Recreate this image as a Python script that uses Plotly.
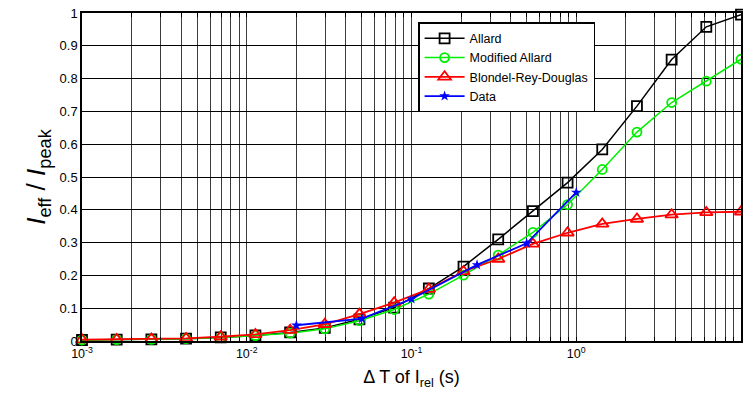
import plotly.graph_objects as go

x_model = [0.001, 0.001624, 0.002637, 0.004281, 0.006952, 0.01129, 0.01833, 0.02976,
           0.04833, 0.07848, 0.1274, 0.2069, 0.336, 0.5456, 0.8859, 1.438, 2.336,
           3.793, 6.158, 10.0]
allard = [0.003, 0.004, 0.005, 0.007, 0.011, 0.017, 0.026, 0.040, 0.066, 0.102,
          0.160, 0.227, 0.310, 0.396, 0.483, 0.584, 0.716, 0.858, 0.958, 0.995]
mod_allard = [0.003, 0.004, 0.005, 0.007, 0.010, 0.016, 0.024, 0.037, 0.062, 0.096,
              0.143, 0.201, 0.262, 0.331, 0.416, 0.523, 0.637, 0.727, 0.792, 0.859]
blondel = [0.004, 0.005, 0.006, 0.008, 0.013, 0.020, 0.033, 0.051, 0.082, 0.117,
           0.158, 0.212, 0.250, 0.296, 0.330, 0.357, 0.372, 0.385, 0.392, 0.394]
x_data = [0.02, 0.05, 0.1, 0.25, 0.5, 1.0]
y_data = [0.048, 0.068, 0.128, 0.232, 0.298, 0.453]

decades = [0.001, 0.01, 0.1, 1, 10]
decade_labels = ["10<sup>-3</sup>", "10<sup>-2</sup>", "10<sup>-1</sup>", "10<sup>0</sup>", "10<sup>1</sup>"]
y_ticks = [0, 0.1, 0.2, 0.3, 0.4, 0.5, 0.6, 0.7, 0.8, 0.9, 1]
y_labels = ["0", "0.1", "0.2", "0.3", "0.4", "0.5", "0.6", "0.7", "0.8", "0.9", "1"]

xt, xl = [], []
for d, lab in zip(decades, decade_labels):
    for m in range(1, 10):
        v = d * m
        if v > 10.0001:
            break
        xt.append(v)
        xl.append(lab if m == 1 else "")

fig = go.Figure()
fig.add_trace(go.Scatter(x=x_model, y=allard, name="Allard", mode="lines+markers",
                         line=dict(color="black", width=1.5),
                         marker=dict(symbol="square-open", size=10, color="black",
                                     line=dict(width=1.8)), cliponaxis=False))
fig.add_trace(go.Scatter(x=x_model, y=mod_allard, name="Modified Allard", mode="lines+markers",
                         line=dict(color="#00ee00", width=1.5),
                         marker=dict(symbol="circle-open", size=9, color="#00ee00",
                                     line=dict(width=1.8)), cliponaxis=False))
fig.add_trace(go.Scatter(x=x_model, y=blondel, name="Blondel-Rey-Douglas", mode="lines+markers",
                         line=dict(color="red", width=1.8),
                         marker=dict(symbol="triangle-up-open", size=11, color="red",
                                     line=dict(width=1.8)), cliponaxis=False))
fig.add_trace(go.Scatter(x=x_data, y=y_data, name="Data", mode="lines+markers",
                         line=dict(color="blue", width=1.8),
                         marker=dict(symbol="star", size=8, color="blue"), cliponaxis=False))

fig.update_layout(
    width=743, height=395,
    margin=dict(l=82, r=2, t=13, b=54, autoexpand=False),
    paper_bgcolor="white", plot_bgcolor="white",
    font=dict(family="Liberation Sans, Arial, sans-serif", color="black", size=12),
    showlegend=True,
    legend=dict(x=0.51, y=0.972, xanchor="left", yanchor="top",
                bgcolor="white", bordercolor="black", borderwidth=1.5,
                font=dict(size=12.5), tracegroupgap=0, itemwidth=40),
)
fig.update_xaxes(type="log", range=[-3, 1], tickmode="array", tickvals=xt, ticktext=xl,
                 showgrid=True, gridcolor="#3c3c3c", gridwidth=1, automargin=False,
                 showline=True, linecolor="black", linewidth=1.5, mirror="ticks",
                 ticks="inside", ticklen=4, tickcolor="black",
                 tickfont=dict(size=12.5), zeroline=False,
                 title=dict(text="Δ T of I<sub>rel</sub> (s)", font=dict(size=18), standoff=11))
fig.update_yaxes(range=[0, 1], tickmode="array", tickvals=y_ticks, ticktext=y_labels,
                 showgrid=True, gridcolor="black", gridwidth=1, automargin=False,
                 showline=True, linecolor="black", linewidth=1.5, mirror="ticks",
                 ticks="inside", ticklen=4, tickcolor="black",
                 tickfont=dict(size=13), zeroline=False,
                 title=dict(text="<i>I</i><sub>eff</sub> / <i>I</i><sub>peak</sub>",
                            font=dict(size=26), standoff=6))

fig.write_html("out.html", config={"displayModeBar": False},
               post_script="document.body.style.margin='0';document.body.style.padding='0';document.body.style.overflow='hidden';")
